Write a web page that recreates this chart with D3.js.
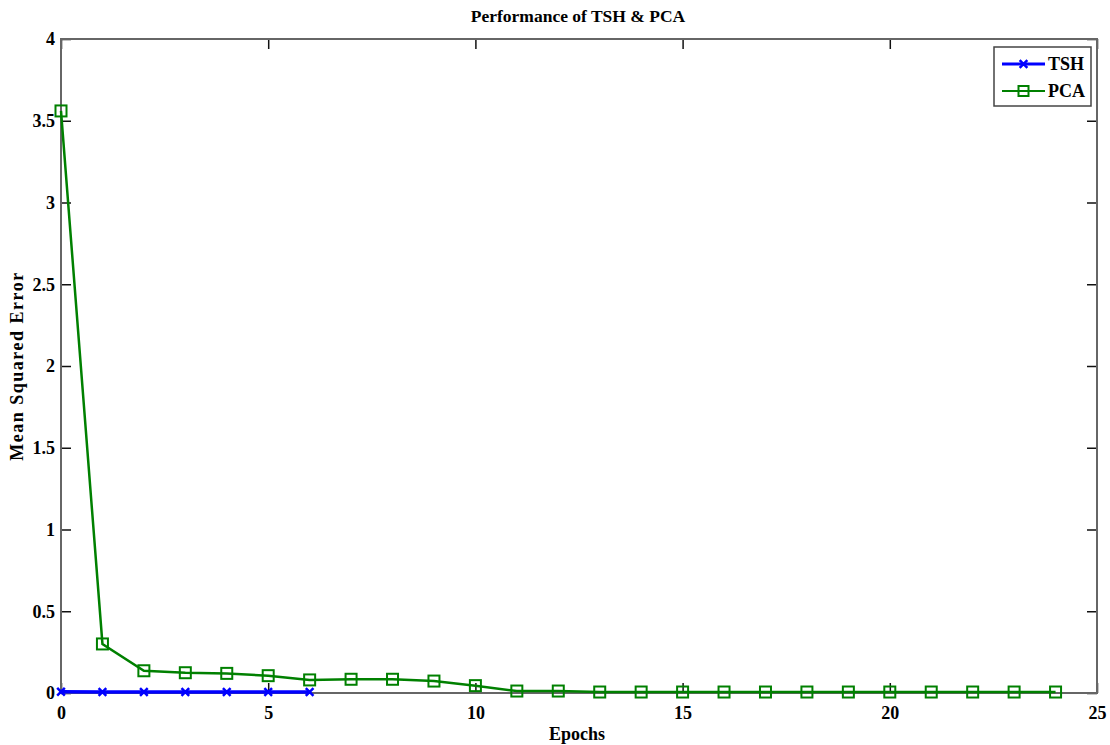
<!DOCTYPE html>
<html>
<head>
<meta charset="utf-8">
<script src="https://cdn.jsdelivr.net/npm/d3@7"></script>
<style>
  body { margin: 0; background: #fff; }
  text { font-family: "Liberation Serif", "Times New Roman", serif; font-weight: bold; }
</style>
</head>
<body>
<svg id="chart" width="1110" height="745"></svg>
<script>
// Training error per epoch
const tshEpochs = [0, 1, 2, 3, 4, 5, 6];
const tshMSE = [0.008, 0.006, 0.006, 0.006, 0.006, 0.006, 0.006];
const pcaEpochs = [0, 1, 2, 3, 4, 5, 6, 7, 8, 9, 10, 11, 12, 13, 14, 15, 16, 17, 18, 19, 20, 21, 22, 23, 24];
const pcaMSE = [3.56, 0.30, 0.136, 0.124, 0.12, 0.106, 0.08, 0.084, 0.084, 0.073, 0.045, 0.012, 0.012,
                0.006, 0.006, 0.006, 0.006, 0.006, 0.006, 0.006, 0.006, 0.006, 0.006, 0.006, 0.006];
const xTicks = [0, 5, 10, 15, 20, 25];
const yTicks = [0, 0.5, 1, 1.5, 2, 2.5, 3, 3.5, 4];

const svg = d3.select("#chart");
const m = { left: 61, top: 39, right: 1097, bottom: 693 };
const x = d3.scaleLinear().domain([0, 25]).range([m.left, m.right]);
const y = d3.scaleLinear().domain([0, 4]).range([m.bottom, m.top]);
const W = m.right - m.left, H = m.bottom - m.top;

// axes with inward ticks on all four sides
const tickLen = 10;
svg.append("g").attr("transform", `translate(0,${m.bottom})`)
  .call(d3.axisBottom(x).tickValues(xTicks).tickSizeInner(-tickLen).tickSizeOuter(0).tickPadding(tickLen + 3).tickFormat(d3.format("d")))
  .call(g => g.select(".domain").remove());
svg.append("g").attr("transform", `translate(0,${m.top})`)
  .call(d3.axisTop(x).tickValues(xTicks).tickSizeInner(-tickLen).tickSizeOuter(0).tickFormat(""))
  .call(g => g.select(".domain").remove());
svg.append("g").attr("transform", `translate(${m.left},0)`)
  .call(d3.axisLeft(y).tickValues(yTicks).tickSizeInner(-tickLen).tickSizeOuter(0).tickPadding(tickLen - 4).tickFormat(d3.format("")))
  .call(g => g.select(".domain").remove());
svg.append("g").attr("transform", `translate(${m.right},0)`)
  .call(d3.axisRight(y).tickValues(yTicks).tickSizeInner(-tickLen).tickSizeOuter(0).tickFormat(""))
  .call(g => g.select(".domain").remove());

svg.selectAll(".tick line").attr("stroke", "#111").attr("stroke-width", 1.5);
svg.selectAll(".tick text").attr("fill", "#000").style("font-size", "18px")
  .style("font-family", "'Liberation Serif', serif").style("font-weight", "bold");

// plot box
svg.append("rect").attr("x", m.left).attr("y", m.top).attr("width", W).attr("height", H)
  .attr("fill", "none").attr("stroke", "#666").attr("stroke-width", 2);

// series
const line = d3.line().x(d => x(d[0])).y(d => y(d[1]));
const pcaPts = pcaEpochs.map((e, i) => [e, pcaMSE[i]]);
const tshPts = tshEpochs.map((e, i) => [e, tshMSE[i]]);

const green = "#008000", blue = "#0000ff";
svg.append("path").datum(pcaPts).attr("d", line).attr("fill", "none").attr("stroke", green).attr("stroke-width", 2.5);
svg.append("g").selectAll("rect").data(pcaPts).join("rect")
  .attr("x", d => x(d[0]) - 5.5).attr("y", d => y(d[1]) - 5.5).attr("width", 11).attr("height", 11)
  .attr("fill", "none").attr("stroke", green).attr("stroke-width", 2);

svg.append("path").datum(tshPts).attr("d", line).attr("fill", "none").attr("stroke", blue).attr("stroke-width", 3.5);
const cross = d3.symbol().type(d3.symbolX).size(40);
svg.append("g").selectAll("path").data(tshPts).join("path")
  .attr("transform", d => `translate(${x(d[0])},${y(d[1])})`)
  .attr("d", cross).attr("fill", "none").attr("stroke", blue).attr("stroke-width", 2.5);

// title and axis labels
svg.append("text").attr("x", 578).attr("y", 22).attr("text-anchor", "middle")
  .style("font-size", "17.5px").text("Performance of TSH & PCA");
svg.append("text").attr("x", 577).attr("y", 740).attr("text-anchor", "middle")
  .style("font-size", "18px").text("Epochs");
svg.append("text").attr("transform", `translate(23,${366}) rotate(-90)`).attr("text-anchor", "middle")
  .style("font-size", "18px").style("letter-spacing", "1.5px").text("Mean Squared Error");

// legend
const lg = svg.append("g").attr("transform", "translate(994,47)");
lg.append("rect").attr("width", 97).attr("height", 59).attr("fill", "#fff").attr("stroke", "#444").attr("stroke-width", 1.5);
const items = [
  { name: "TSH", color: blue, sw: 3, mark: "x" },
  { name: "PCA", color: green, sw: 2, mark: "sq" }
];
items.forEach((it, i) => {
  const yy = 17 + i * 27;
  lg.append("line").attr("x1", 8).attr("x2", 51).attr("y1", yy).attr("y2", yy)
    .attr("stroke", it.color).attr("stroke-width", it.sw);
  if (it.mark === "x") {
    lg.append("path").attr("transform", `translate(29.5,${yy})`).attr("d", cross)
      .attr("fill", "none").attr("stroke", it.color).attr("stroke-width", 2.5);
  } else {
    lg.append("rect").attr("x", 24.5).attr("y", yy - 5).attr("width", 10).attr("height", 10)
      .attr("fill", "none").attr("stroke", it.color).attr("stroke-width", 2);
  }
  lg.append("text").attr("x", 54).attr("y", yy + 6).style("font-size", "18px").text(it.name);
});
</script>
</body>
</html>
